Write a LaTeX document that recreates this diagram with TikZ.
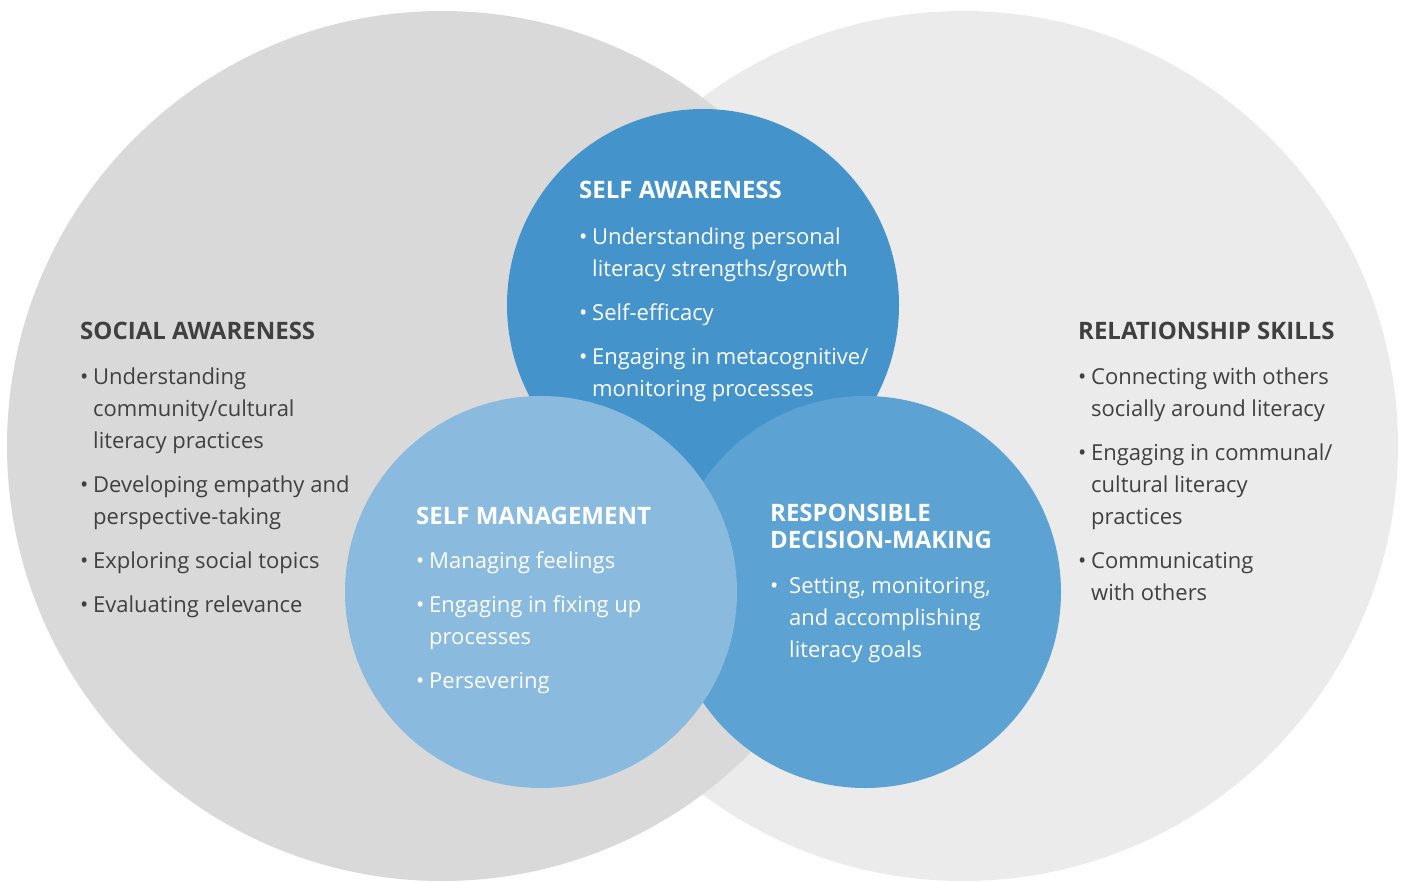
\documentclass[tikz,border=0pt]{standalone}
\usepackage{fontspec}
\setmainfont{Open Sans}
\usetikzlibrary{positioning}

\definecolor{socialgray}{HTML}{D9D9D9}
\definecolor{relgray}{HTML}{EBEBEB}
\definecolor{selfblue}{HTML}{4494CB}
\definecolor{decblue}{HTML}{5CA2D3}
\definecolor{manblue}{HTML}{8ABBDF}
\definecolor{textgray}{HTML}{404040}

\newcommand{\bul}{\makebox[13pt][l]{\textbullet}}
\newcommand{\bulwide}{\makebox[19pt][l]{\textbullet}}
\newcommand{\heading}[1]{\multicolumn{2}{@{}l@{}}{\fontsize{24}{27}\selectfont\bfseries #1}}

\begin{document}
\begin{tikzpicture}[
    x=1pt,
    y=-1pt,
    font=\fontsize{22}{32}\selectfont,
    big/.style={
		circle,
		inner sep=0pt,
		minimum size=870pt
	},
	small/.style={
		circle,
		inner sep=0pt,
		minimum size=392pt
	},
	block/.style={
		anchor=base west,
		inner sep=0pt,
		align=left
	}
  ]

 \useasboundingbox (0,0) rectangle (1401,883);

 % // The big circles
 \node [big, fill=relgray] (relation) at (963,446) {};
 \node [big, fill=socialgray] (social) at (442,446) {};

 % // The small circles
 \node [small, fill=selfblue] (selfaw) at (703,305) {};
 \node [small, fill=decblue] (decision) at (865,592) {};
 \node [small, fill=manblue] (selfman) at (541,592) {};

 % // Social awareness
 \node [block, text=textgray] (socialtext) at (80,339)
 {%
 \begin{tabular}[t]{@{}l@{}l@{}}
  \heading{SOCIAL AWARENESS}\\[13pt]
  \bul & Understanding\\
       & community/cultural\\
       & literacy practices\\[12pt]
  \bul & Developing empathy and\\
       & perspective-taking\\[12pt]
  \bul & Exploring social topics\\[12pt]
  \bul & Evaluating relevance
 \end{tabular}
 };

 % // Relationship skills
 \node [block, text=textgray] (relationtext) at (1078,339)
 {%
 \begin{tabular}[t]{@{}l@{}l@{}}
  \heading{RELATIONSHIP SKILLS}\\[13pt]
  \bul & Connecting with others\\
       & socially around literacy\\[12pt]
  \bul & Engaging in communal/\\
       & cultural literacy\\
       & practices\\[12pt]
  \bul & Communicating\\
       & with others
 \end{tabular}
 };

 % // Self awareness
 \node [block, text=white] (selfawtext) at (579,198)
 {%
 \begin{tabular}[t]{@{}l@{}l@{}}
  \heading{SELF AWARENESS}\\[14pt]
  \bul & Understanding personal\\
       & literacy strengths/growth\\[12pt]
  \bul & Self-efficacy\\[12pt]
  \bul & Engaging in metacognitive/\\
       & monitoring processes
 \end{tabular}
 };

 % // Self management
 \node [block, text=white] (selfmantext) at (416,524)
 {%
 \begin{tabular}[t]{@{}l@{}l@{}}
  \heading{SELF MANAGEMENT}\\[12pt]
  \bul & Managing feelings\\[12pt]
  \bul & Engaging in fixing up\\
       & processes\\[12pt]
  \bul & Persevering
 \end{tabular}
 };

 % // Responsible decision-making
 \node [block, text=white] (decisiontext) at (770,521)
 {%
 \begin{tabular}[t]{@{}l@{}l@{}}
  \heading{RESPONSIBLE}\\[-5pt]
  \heading{DECISION-MAKING}\\[13pt]
  \bulwide & Setting, monitoring,\\
           & and accomplishing\\
           & literacy goals
 \end{tabular}
 };

\end{tikzpicture}
\end{document}
